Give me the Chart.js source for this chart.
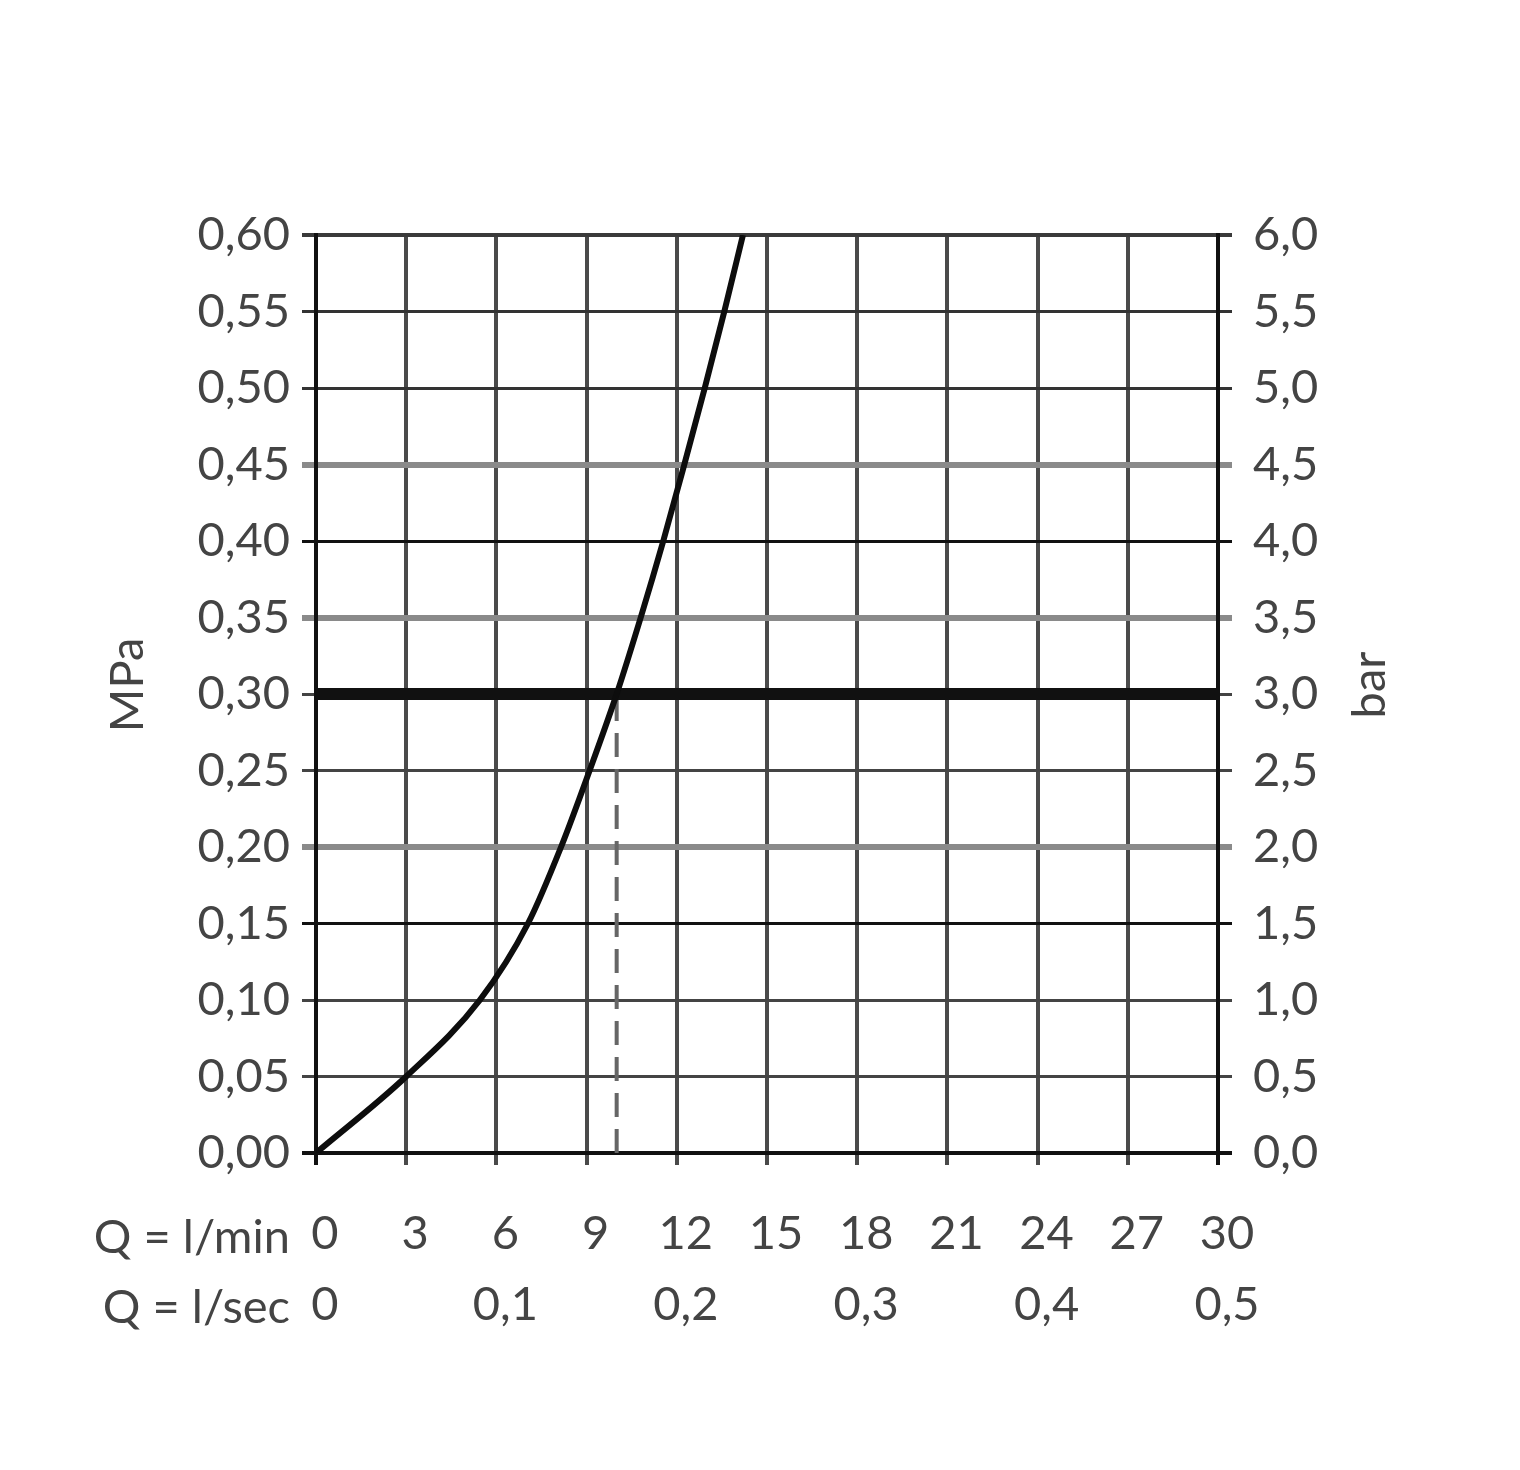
<!DOCTYPE html>
<html>
<head>
<meta charset="utf-8">
<script src="https://cdn.jsdelivr.net/npm/chart.js@4/dist/chart.umd.min.js"></script>
<style>
  body { margin: 0; background: #fff; }
  #wrap { width: 1520px; height: 1470px; position: relative; }
</style>
</head>
<body>
<div id="wrap"><canvas id="chart"></canvas></div>
<script>
// flow in l/min vs pressure in MPa
const flowLpm = [0, 3, 5.45, 7.05, 8.15, 9.1, 10.0, 10.8, 11.55, 12.25, 12.93, 13.58, 14.2];
const pressureMPa = [0, 0.05, 0.10, 0.15, 0.20, 0.25, 0.30, 0.35, 0.40, 0.45, 0.50, 0.55, 0.60];

// marked operating point
const refPressure = 0.30;
const refFlow = 10;

// second row of x labels (l/sec)
const secTickAt = [0, 6, 12, 18, 24, 30];
const secTickLabels = ["0", "0,1", "0,2", "0,3", "0,4", "0,5"];

const FONT = "Lato, 'DejaVu Sans', sans-serif";
const TEXT = "#444";

// style of each horizontal grid line, keyed by MPa*100
const hLineStyle = {
  0: ["#111", 4], 5: ["#444", 3], 10: ["#444", 3], 15: ["#111", 3],
  20: ["#8a8a8a", 6], 25: ["#444", 3], 30: ["#444", 3], 35: ["#8a8a8a", 6],
  40: ["#111", 3], 45: ["#8a8a8a", 6], 50: ["#333", 3], 55: ["#333", 3], 60: ["#3a3a3a", 4]
};

function hStyle(v) {
  return hLineStyle[Math.round(v * 100)] || ["#444", 3];
}

function vStyle(v) {
  if (v === 0 || v === 30) return ["#111", 4];
  return ["#4a4a4a", 4];
}

const curve = flowLpm.map((x, i) => ({ x, y: pressureMPa[i] }));

const extraText = {
  id: "extraText",
  afterDraw(chart) {
    const { ctx, chartArea } = chart;
    ctx.save();
    ctx.fillStyle = TEXT;
    ctx.font = `47px ${FONT}`;
    ctx.textBaseline = "middle";
    ctx.textAlign = "right";
    ctx.fillText("Q = l/min", chartArea.left - 26, chartArea.bottom + 85);
    ctx.fillText("Q = l/sec", chartArea.left - 26, chartArea.bottom + 155);

    ctx.textAlign = "center";
    ctx.translate(128, 685);
    ctx.rotate(-Math.PI / 2);
    ctx.fillText("MPa", 0, 0);
    ctx.restore();

    ctx.save();
    ctx.fillStyle = TEXT;
    ctx.font = `47px ${FONT}`;
    ctx.textBaseline = "middle";
    ctx.textAlign = "center";
    ctx.translate(1370, 685);
    ctx.rotate(-Math.PI / 2);
    ctx.fillText("bar", 0, 0);
    ctx.restore();
  }
};

new Chart(document.getElementById("chart"), {
  type: "scatter",
  data: {
    datasets: [
      {
        data: curve,
        showLine: true,
        borderColor: "#0d0d0d",
        borderWidth: 6,
        pointRadius: 0,
        cubicInterpolationMode: "monotone",
        yAxisID: "y"
      },
      {
        data: [{ x: 0, y: refPressure }, { x: 30, y: refPressure }],
        showLine: true,
        borderColor: "#111",
        borderWidth: 12,
        pointRadius: 0,
        yAxisID: "y"
      },
      {
        data: [{ x: refFlow, y: 0 }, { x: refFlow, y: refPressure }],
        showLine: true,
        borderColor: "#666",
        borderWidth: 4,
        borderDash: [24, 12],
        pointRadius: 0,
        yAxisID: "y"
      }
    ]
  },
  options: {
    responsive: true,
    maintainAspectRatio: false,
    animation: false,
    layout: { padding: { top: 235, left: 0, right: 0, bottom: 0 } },
    plugins: { legend: { display: false }, tooltip: { enabled: false } },
    scales: {
      x: {
        type: "linear",
        min: 0,
        max: 30,
        afterFit: (s) => { s.height = 317; },
        border: { display: false },
        grid: {
          color: (c) => vStyle(c.tick.value)[0],
          lineWidth: (c) => vStyle(c.tick.value)[1],
          tickLength: 12
        },
        ticks: {
          stepSize: 3,
          autoSkip: false,
          maxRotation: 0,
          padding: 34,
          labelOffset: 9,
          color: TEXT,
          font: { family: FONT, size: 47, lineHeight: 1.5 },
          callback: (v) => {
            const i = secTickAt.indexOf(v);
            return [String(v), i >= 0 ? secTickLabels[i] : ""];
          }
        }
      },
      y: {
        position: "left",
        min: 0,
        max: 0.6,
        afterFit: (s) => { s.width = 316; },
        border: { display: true, color: "#111", width: 4 },
        grid: {
          color: (c) => hStyle(c.tick.value)[0],
          lineWidth: (c) => hStyle(c.tick.value)[1],
          tickLength: 14
        },
        ticks: {
          stepSize: 0.05,
          padding: 12,
          color: TEXT,
          font: { family: FONT, size: 47 },
          callback: (v) => v.toFixed(2).replace(".", ",")
        }
      },
      bar: {
        position: "right",
        min: 0,
        max: 6,
        afterFit: (s) => { s.width = 302; },
        border: { display: true, color: "#111", width: 4 },
        grid: {
          drawOnChartArea: false,
          color: (c) => hStyle(c.tick.value / 10)[0],
          lineWidth: (c) => hStyle(c.tick.value / 10)[1],
          tickLength: 14
        },
        ticks: {
          stepSize: 0.5,
          padding: 21,
          color: TEXT,
          font: { family: FONT, size: 47 },
          callback: (v) => v.toFixed(1).replace(".", ",")
        }
      }
    }
  },
  plugins: [extraText]
});
</script>
</body>
</html>
